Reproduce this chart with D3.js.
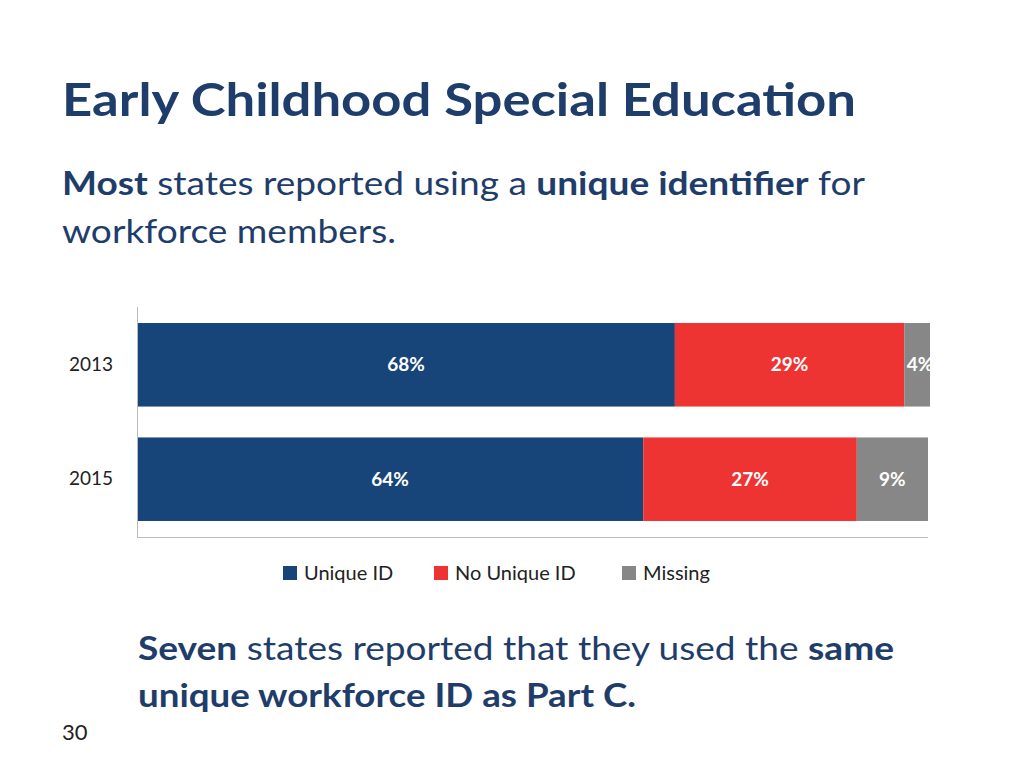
<!DOCTYPE html>
<html lang="en">
<head>
<meta charset="utf-8">
<title>Early Childhood Special Education</title>
<script src="https://cdnjs.cloudflare.com/ajax/libs/d3/7.8.5/d3.min.js"></script>
<style>
  body { margin: 0; background: #fff; }
  svg { font-family: Lato, "Open Sans", sans-serif; }
</style>
</head>
<body>
<div id="chart"></div>
<script>
    // chart data
    var years = ["2013", "2015"];
    var series = ["Unique ID", "No Unique ID", "Missing"];
    var uniqueId = [68, 64];
    var noUniqueId = [29, 27];
    var missing = [4, 9];
    var colors = ["#17457a", "#ee3333", "#878787"];

    var rows = years.map(function (y, i) {
        return {year: y, values: [uniqueId[i], noUniqueId[i], missing[i]]};
    });

    var svg = d3.select("#chart").append("svg")
        .attr("width", 1024)
        .attr("height", 768);

    var navy = "#1f3d6b";

    // heading text
    svg.append("text").attr("x", 62).attr("y", 116)
        .attr("fill", navy).attr("font-weight", "bold").attr("font-size", 46)
        .attr("textLength", 794).attr("lengthAdjust", "spacingAndGlyphs")
        .text("Early Childhood Special Education");

    function richLine(x, y, size, parts, width) {
        var t = svg.append("text").attr("x", x).attr("y", y)
            .attr("font-size", size).attr("fill", navy);
        if (width) t.attr("textLength", width).attr("lengthAdjust", "spacingAndGlyphs");
        parts.forEach(function (p) {
            t.append("tspan").attr("font-weight", p[1] ? "bold" : "normal").text(p[0]);
        });
    }
    richLine(62, 195, 32, [["Most", 1], [" states reported using a ", 0], ["unique identifier", 1], [" for", 0]], 803);
    richLine(62, 243, 32, [["workforce members.", 0]], 334);
    richLine(138, 660, 32, [["Seven", 1], [" states reported that they used the ", 0], ["same", 1]], 756);
    richLine(138, 707, 32, [["unique workforce ID as Part C.", 1]], 498);

    svg.append("text").attr("x", 62).attr("y", 740).attr("font-size", 22)
        .attr("fill", "#222").text("30");

    // chart area
    var margin = {left: 137, top: 307, right: 930, bottom: 537};

    var x = d3.scaleLinear().domain([0, 100]).range([margin.left, 928]);
    var y = d3.scaleBand().domain(years).range([margin.top, margin.bottom])
        .paddingInner(0.27).paddingOuter(0.14);

    svg.append("clipPath").attr("id", "plotclip").append("rect")
        .attr("x", margin.left).attr("y", margin.top)
        .attr("width", margin.right - margin.left).attr("height", margin.bottom - margin.top);

    var plot = svg.append("g").attr("clip-path", "url(#plotclip)");

    rows.forEach(function (r) {
        var acc = 0;
        r.values.forEach(function (v, j) {
            var x0 = x(acc), x1 = x(acc + v);
            plot.append("rect")
                .attr("x", x0).attr("y", y(r.year))
                .attr("width", x1 - x0).attr("height", y.bandwidth())
                .attr("fill", colors[j]);
            plot.append("text")
                .attr("x", (x0 + x1) / 2).attr("y", y(r.year) + y.bandwidth() / 2)
                .attr("dy", "0.35em").attr("text-anchor", "middle")
                .attr("fill", "#fff").attr("font-weight", "bold").attr("font-size", 19)
                .text(v + "%");
            acc += v;
        });
    });

    // axes lines
    svg.append("line").attr("x1", margin.left + 0.5).attr("x2", margin.left + 0.5)
        .attr("y1", margin.top).attr("y2", margin.bottom).attr("stroke", "#bbb");
    svg.append("line").attr("x1", margin.left).attr("x2", 928)
        .attr("y1", margin.bottom + 0.5).attr("y2", margin.bottom + 0.5).attr("stroke", "#bbb");

    var yAxis = d3.axisLeft(y).tickSize(0).tickPadding(24);
    svg.append("g").attr("transform", "translate(" + margin.left + ",0)").call(yAxis)
        .call(function (g) { g.select(".domain").remove(); })
        .selectAll("text").attr("font-size", 19).attr("fill", "#222")
        .attr("font-family", "Lato, 'Open Sans', sans-serif");

    // legend
    var legendX = [283, 434, 622];
    series.forEach(function (s, i) {
        var g = svg.append("g").attr("transform", "translate(" + legendX[i] + ",566)");
        g.append("rect").attr("width", 14).attr("height", 14).attr("fill", colors[i]);
        g.append("text").attr("x", 21).attr("y", 7).attr("dy", "0.35em")
            .attr("font-size", 20).attr("fill", "#222").text(s);
    });
</script>
</body>
</html>
